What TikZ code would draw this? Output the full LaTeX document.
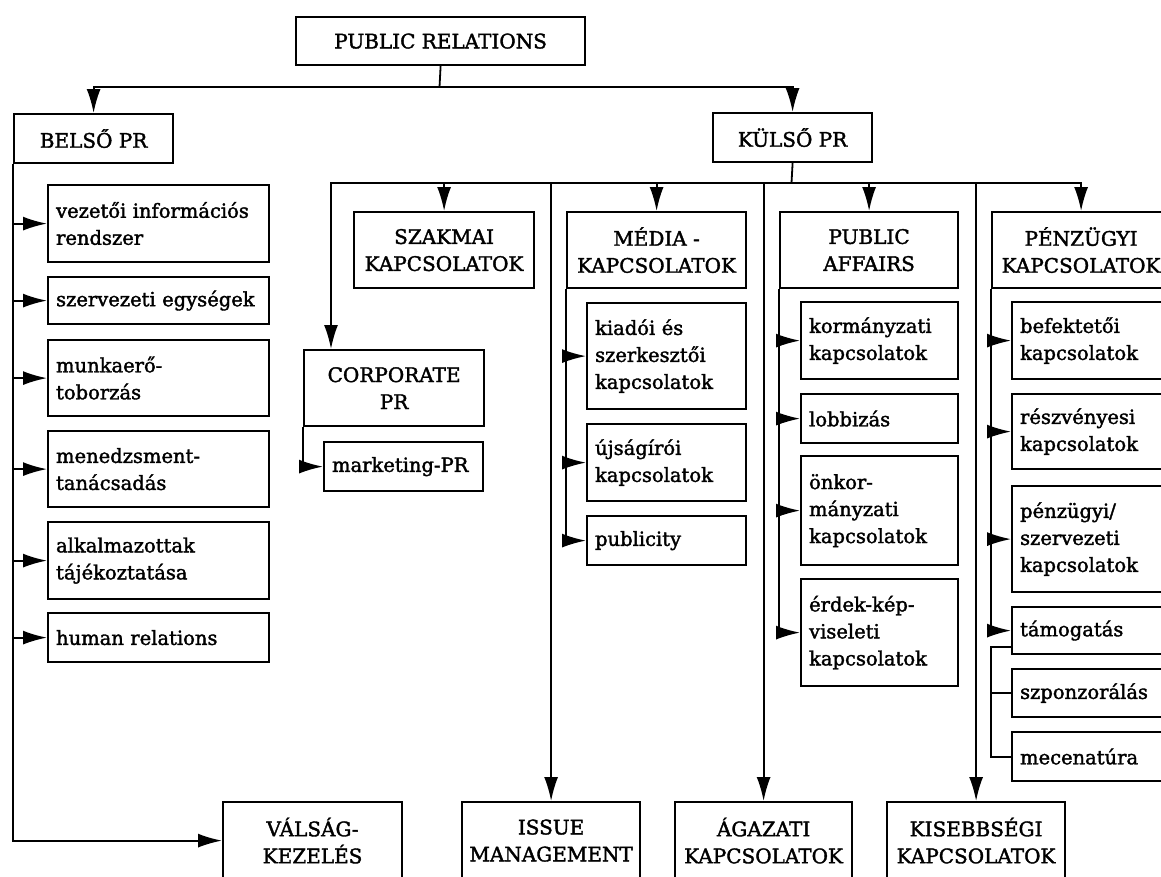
\documentclass[tikz,border=0pt]{standalone}
\usepackage{fontspec}
\setmainfont{DejaVu Serif}
\newfontfamily\diafont{DejaVu Serif}[FakeBold=1.8]
\usetikzlibrary{arrows.meta}

\begin{document}
\begin{tikzpicture}[x=1pt,y=-1pt,font=\diafont\fontsize{19.5}{27}\selectfont]
\tikzstyle{hbox}=[draw,line width=2.2pt,anchor=north west,align=center,inner sep=3pt,font=\diafont\fontsize{20}{27}\selectfont]
\tikzstyle{sbox}=[draw,line width=2.2pt,anchor=north west,align=left,inner xsep=8pt,inner ysep=2pt]
\tikzstyle{arr}=[line width=1.8pt,-{Latex[length=24pt,width=14pt]}]
\tikzstyle{ln}=[line width=1.8pt]

\useasboundingbox (0,0) rectangle (1161,876);
\clip (0,0) rectangle (1161,876);

% top levels
\node[hbox,minimum width=289,minimum height=48] (pr) at (295,16) {PUBLIC RELATIONS};
\node[hbox,minimum width=159,minimum height=49] (belso) at (13,113) {BELSŐ PR};
\node[hbox,minimum width=159,minimum height=49] (kulso) at (712,112) {KÜLSŐ PR};

% belso pr
\node[sbox,minimum width=221,minimum height=77,text width=205] (vez) at (47,184) {vezetői információs\\rendszer};
\node[sbox,minimum width=221,minimum height=47,text width=205] (szerv) at (47,276) {szervezeti egységek};
\node[sbox,minimum width=221,minimum height=76,text width=205] (munka) at (47,339) {munkaerő-\\toborzás};
\node[sbox,minimum width=221,minimum height=76,text width=205] (menedzs) at (47,430) {menedzsment-\\tanácsadás};
\node[sbox,minimum width=221,minimum height=77,text width=205] (alk) at (47,521) {alkalmazottak\\tájékoztatása};
\node[sbox,minimum width=221,minimum height=49,text width=205] (human) at (47,612) {human relations};

% kulso pr
\node[hbox,minimum width=180,minimum height=76] (szak) at (353,211) {SZAKMAI\\KAPCSOLATOK};
\node[hbox,minimum width=179,minimum height=76] (media) at (566,211) {MÉDIA -\\KAPCSOLATOK};
\node[hbox,minimum width=178,minimum height=76] (pa) at (779,211) {PUBLIC\\AFFAIRS};
\node[hbox,minimum width=178,minimum height=76] (penz) at (991,211) {PÉNZÜGYI\\KAPCSOLATOK};

\node[hbox,minimum width=180,minimum height=76] (corp) at (303,349) {CORPORATE\\PR};
\node[sbox,minimum width=159,minimum height=49,text width=143] (mkt) at (323,441) {marketing-PR};

\node[sbox,minimum width=159,minimum height=106,text width=143] (kiado) at (586,302) {kiadói és\\szerkesztői\\kapcsolatok};
\node[sbox,minimum width=159,minimum height=77,text width=143] (ujsag) at (586,423) {újságírói\\kapcsolatok};
\node[sbox,minimum width=159,minimum height=49,text width=143] (publ) at (586,515) {publicity};

\node[sbox,minimum width=157,minimum height=77,text width=141] (korm) at (800,301) {kormányzati\\kapcsolatok};
\node[sbox,minimum width=157,minimum height=49,text width=141] (lobbi) at (800,393) {lobbizás};
\node[sbox,minimum width=157,minimum height=109,text width=141] (onkor) at (800,455) {önkor-\\mányzati\\kapcsolatok};
\node[sbox,minimum width=157,minimum height=107,text width=141] (erdek) at (800,578) {érdek-kép-\\viseleti\\kapcsolatok};

\node[sbox,minimum width=159,minimum height=77,text width=143] (befekt) at (1011,301) {befektetői\\kapcsolatok};
\node[sbox,minimum width=159,minimum height=75,text width=143] (reszv) at (1011,393) {részvényesi\\kapcsolatok};
\node[sbox,minimum width=159,minimum height=106,text width=143] (penzsz) at (1011,485) {pénzügyi/\\szervezeti\\kapcsolatok};
\node[sbox,minimum width=159,minimum height=47,text width=143] (tamog) at (1011,606) {támogatás};
\node[sbox,minimum width=159,minimum height=48,text width=143] (szpon) at (1011,668) {szponzorálás};
\node[sbox,minimum width=159,minimum height=49,text width=143] (mecen) at (1011,731) {mecenatúra};

% bottom row
\node[hbox,minimum width=179,minimum height=77] (valsag) at (222,801) {VÁLSÁG-\\KEZELÉS};
\node[hbox,minimum width=178,minimum height=77] (issue) at (461,801) {ISSUE\\MANAGEMENT};
\node[hbox,minimum width=177,minimum height=77] (agaz) at (674,801) {ÁGAZATI\\KAPCSOLATOK};
\node[hbox,minimum width=178,minimum height=77] (kiseb) at (886,801) {KISEBBSÉGI\\KAPCSOLATOK};

\coordinate (prbus) at (439.5,87);
\coordinate (kbus) at (791.5,183);
\coordinate (kleft) at (331,183);
\coordinate (tk) at (991,647);

\draw [ln] (pr.south) -- (prbus);
\draw [arr] (prbus) -| (belso.north);
\draw [arr] (prbus) -| (kulso.north);

\draw [arr] (belso.south west) |- (vez.west);
\draw [arr] (belso.south west) |- (szerv.west);
\draw [arr] (belso.south west) |- (munka.west);
\draw [arr] (belso.south west) |- (menedzs.west);
\draw [arr] (belso.south west) |- (alk.west);
\draw [arr] (belso.south west) |- (human.west);
\draw [arr] (belso.south west) |- (valsag.west);

\draw [ln] (kulso.south) -- (kbus);
\draw [arr] (kbus) -- (kleft) -- (kleft |- corp.north);
\draw [arr] (kbus) -| (penz.north);
\draw [arr] (kleft -| szak.north) -- (szak.north);
\draw [arr] (kleft -| media.north) -- (media.north);
\draw [arr] (kleft -| pa.north) -- (pa.north);
\draw [arr] (kleft -| issue.north) -- (issue.north);
\draw [arr] (kleft -| agaz.north) -- (agaz.north);
\draw [arr] (kleft -| kiseb.north) -- (kiseb.north);

\draw [arr] (corp.south west) |- (mkt.west);

\draw [arr] (media.south west) |- (kiado.west);
\draw [arr] (media.south west) |- (ujsag.west);
\draw [arr] (media.south west) |- (publ.west);

\draw [arr] (pa.south west) |- (korm.west);
\draw [arr] (pa.south west) |- (lobbi.west);
\draw [arr] (pa.south west) |- (onkor.west);
\draw [arr] (pa.south west) |- (erdek.west);

\draw [arr] (penz.south west) |- (befekt.west);
\draw [arr] (penz.south west) |- (reszv.west);
\draw [arr] (penz.south west) |- (penzsz.west);
\draw [arr] (penz.south west) |- (tamog.west);

\draw [ln] (tk -| tamog.west) -- (tk) |- (mecen.west);
\draw [ln] (tk |- szpon.west) -- (szpon.west);

\end{tikzpicture}
\end{document}
